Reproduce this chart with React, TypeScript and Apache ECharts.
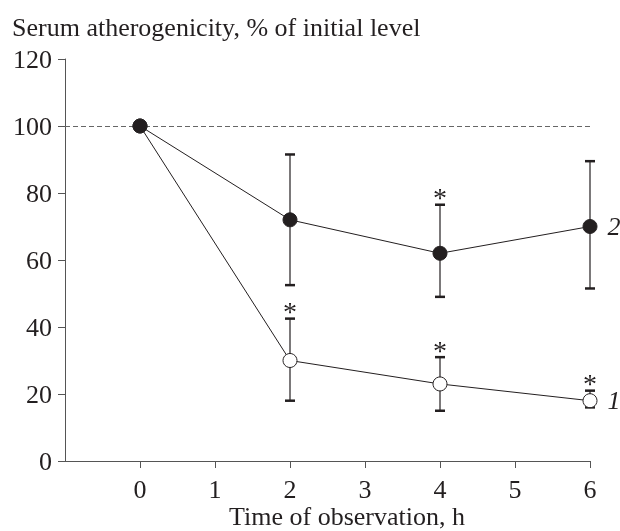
import React, { useEffect, useRef } from "react";
import * as echarts from "echarts";

const hours = [0, 2, 4, 6];
const group1Mean = [100, 30, 23, 18];
const group1Upper: (number | null)[] = [null, 42.5, 31, 21];
const group1Lower: (number | null)[] = [null, 18, 15, 16];
const group1Star = [false, true, true, true];
const group2Mean = [100, 72, 62, 70];
const group2Upper: (number | null)[] = [null, 91.5, 76.5, 89.5];
const group2Lower: (number | null)[] = [null, 52.5, 49, 51.5];
const group2Star = [false, false, true, false];
const xTicks = [0, 1, 2, 3, 4, 5, 6];
const yTicks = [0, 20, 40, 60, 80, 100, 120];

const FONT = "Liberation Serif";
const INK = "#231f20";

function errData(upper: (number | null)[], lower: (number | null)[], star: boolean[]) {
  const out: any[] = [];
  hours.forEach((h, i) => {
    if (upper[i] != null && lower[i] != null) out.push([h, lower[i], upper[i], star[i] ? 1 : 0]);
  });
  return out;
}

function renderErr(params: any, api: any) {
  const x = api.value(0);
  const lo = api.coord([x, api.value(1)]);
  const hi = api.coord([x, api.value(2)]);
  const cw = 5;
  const children: any[] = [
    { type: "line", shape: { x1: lo[0], y1: lo[1], x2: hi[0], y2: hi[1] }, style: { stroke: INK, lineWidth: 1.2 } },
    { type: "line", shape: { x1: hi[0] - cw, y1: hi[1], x2: hi[0] + cw, y2: hi[1] }, style: { stroke: INK, lineWidth: 2.5 } },
    { type: "line", shape: { x1: lo[0] - cw, y1: lo[1], x2: lo[0] + cw, y2: lo[1] }, style: { stroke: INK, lineWidth: 2.5 } },
  ];
  if (api.value(3) === 1) {
    children.push({
      type: "text",
      style: { text: "*", x: hi[0], y: hi[1] + 7, align: "center", verticalAlign: "bottom", fontSize: 28, fontFamily: FONT, fill: INK },
    });
  }
  return { type: "group", children };
}

export default function App() {
  const ref = useRef<HTMLDivElement>(null);
  useEffect(() => {
    const chart = echarts.init(ref.current!, null, { renderer: "svg" });
    const lineSeries = (mean: number[], filled: boolean, label: string, z: number) => ({
      type: "line",
      data: hours.map((h, i) => [h, mean[i]]),
      symbol: "circle",
      symbolSize: 14,
      z,
      lineStyle: { color: INK, width: 1 },
      itemStyle: { color: filled ? INK : "#fff", borderColor: INK, borderWidth: 1 },
      label: {
        show: true,
        position: "right",
        distance: 10,
        fontFamily: FONT,
        fontStyle: "italic",
        fontSize: 26,
        color: INK,
        formatter: (p: any) => (p.dataIndex === hours.length - 1 ? label : ""),
      },
    });
    chart.setOption({
      animation: false,
      textStyle: { fontFamily: FONT },
      grid: { left: 65, right: 30, top: 59, bottom: 70 },
      xAxis: {
        type: "value",
        min: -1,
        max: 6,
        interval: 1,
        axisLine: { onZero: false, lineStyle: { color: "#555", width: 1 } },
        axisTick: { show: true, length: 7, customValues: xTicks, lineStyle: { color: "#555" } },
        axisLabel: { customValues: xTicks, margin: 15, fontSize: 26, fontFamily: FONT, color: INK },
        splitLine: { show: false },
      },
      yAxis: {
        type: "value",
        min: 0,
        max: 120,
        interval: 20,
        axisLine: { show: true, onZero: false, lineStyle: { color: "#555", width: 1 } },
        axisTick: { show: true, length: 7, customValues: yTicks, lineStyle: { color: "#555" } },
        axisLabel: { customValues: yTicks, margin: 13, fontSize: 26, fontFamily: FONT, color: INK },
        splitLine: { show: false },
      },
      graphic: [
        { type: "text", x: 12, y: 27, style: { text: "Serum atherogenicity, % of initial level", fontSize: 26, fontFamily: FONT, fill: INK, verticalAlign: "middle" } },
        { type: "text", x: 347, y: 516, style: { text: "Time of observation, h", fontSize: 26, fontFamily: FONT, fill: INK, align: "center", verticalAlign: "middle" } },
      ],
      series: [
        {
          type: "custom",
          renderItem: renderErr,
          data: errData(group2Upper, group2Lower, group2Star),
          z: 2,
          silent: true,
          markLine: {
            silent: true,
            symbol: "none",
            label: { show: false },
            lineStyle: { color: "#666", type: [5, 3], width: 1 },
            data: [{ yAxis: 100 }],
          },
        },
        { type: "custom", renderItem: renderErr, data: errData(group1Upper, group1Lower, group1Star), z: 2, silent: true },
        lineSeries(group1Mean, false, "1", 5),
        lineSeries(group2Mean, true, "2", 6),
      ],
    });
    return () => chart.dispose();
  }, []);
  return <div ref={ref} style={{ position: "fixed", left: 0, top: 0, width: 620, height: 531 }} />;
}
